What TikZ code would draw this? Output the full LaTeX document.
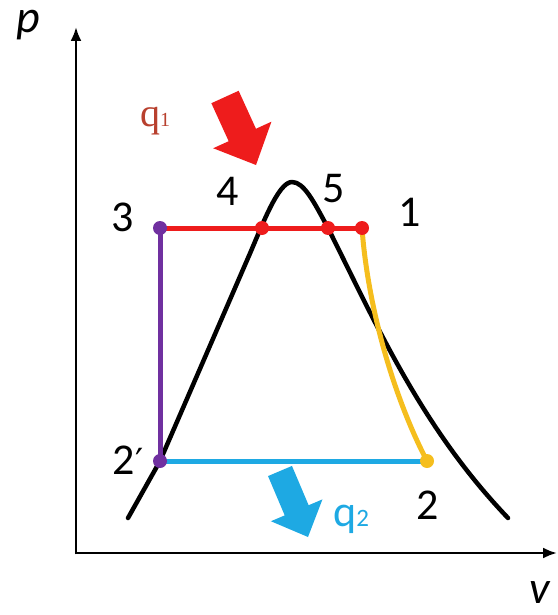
\documentclass[tikz,border=0pt]{standalone}
\usepackage{fontspec}
\setmainfont{Carlito}
\newfontfamily\serifq{Liberation Serif}
\newfontfamily\symf{DejaVu Sans}
\usetikzlibrary{arrows.meta,calc}
\definecolor{cred}{HTML}{EE1C1C}
\definecolor{cpurple}{HTML}{7030A0}
\definecolor{cyel}{HTML}{F5BE1E}
\definecolor{ccyan}{HTML}{1EA9E3}
\definecolor{cqone}{HTML}{B8402E}
\begin{document}
\begin{tikzpicture}[x=1pt,y=-1pt,line join=round,
  lbl/.style={font=\fontsize{44}{46}\selectfont, inner sep=0pt},
  axlbl/.style={font=\itshape\fontsize{46}{48}\selectfont, inner sep=0pt},
  dot/.style={circle, fill=#1, minimum size=14pt, inner sep=0pt},
  axisline/.style={line width=2.5pt, -{Latex[length=14pt,width=11pt]}},
  procline/.style={line width=5pt, draw=#1},
  blockarrow/.style={fill=#1, draw=none}]
\useasboundingbox (0,0) rectangle (557,615);
% axes
\coordinate (O) at (76,553);
\coordinate (Oy) at (76,554.25);
\coordinate (Ox) at (74.75,553);
\coordinate (ytip) at (76,27);
\coordinate (xtip) at (557,553);
\draw[axisline] (Oy) -- (ytip);
\draw[axisline] (Ox) -- (xtip);
\node[axlbl, anchor=base] (pl) at (28,33) {p};
\node[axlbl, anchor=base] (vl) at (540,603) {v};
% saturation dome
\draw[line width=4.5pt, line cap=round] (128,518) -- (160,461) -- (248,258)
  .. controls (262,226) and (278,182) .. (292,182)
  .. controls (304,182) and (314,202) .. (328,228)
  .. controls (378,328) and (422,428) .. (508,518);
% state points
\coordinate (c3) at (160,228);
\coordinate (c4) at (262,228);
\coordinate (c5) at (328,228);
\coordinate (c1) at (362,228);
\coordinate (c2p) at (160,461);
\coordinate (c2) at (427,461);
% process lines
\draw[procline=cpurple] (c3) -- (c2p);
\draw[procline=ccyan] (c2p) -- (c2);
\draw[procline=cyel] (c1) .. controls (368,310) and (395,400) .. (c2);
\draw[procline=cred] (c3) -- (c1);
% dots
\node[dot=cpurple] (d3) at (c3) {};
\node[dot=cpurple] (d2p) at (c2p) {};
\node[dot=cred] (d4) at (c4) {};
\node[dot=cred] (d5) at (c5) {};
\node[dot=cred] (d1) at (c1) {};
\node[dot=cyel] (d2) at (c2) {};
% labels
\node[lbl] (l3) at (123,217) {3};
\node[lbl] (l4) at (228,191) {4};
\node[lbl] (l5) at (334,189) {5};
\node[lbl] (l1) at (410,212) {1};
\node[lbl] (l2p) at (128,460) {2{\symf\fontsize{36}{38}\selectfont ′}};
\node[lbl] (l2) at (428,505) {2};
% heat arrows
\coordinate (rT) at (225,97);
\coordinate (rP) at (256,165);
\coordinate (rN) at ($(rP)!33pt!(rT)$);
\fill[blockarrow=cred] ($(rT)!15pt!90:(rP)$) -- ($(rN)!15pt!90:(rP)$) -- ($(rN)!32pt!90:(rP)$) -- (rP) -- ($(rN)!32pt!-90:(rP)$) -- ($(rN)!15pt!-90:(rP)$) -- ($(rT)!15pt!-90:(rP)$) -- cycle;
\coordinate (bT) at (280,471);
\coordinate (bP) at (308,537);
\coordinate (bN) at ($(bP)!29pt!(bT)$);
\fill[blockarrow=ccyan] ($(bT)!13pt!90:(bP)$) -- ($(bN)!13pt!90:(bP)$) -- ($(bN)!28pt!90:(bP)$) -- (bP) -- ($(bN)!28pt!-90:(bP)$) -- ($(bN)!13pt!-90:(bP)$) -- ($(bT)!13pt!-90:(bP)$) -- cycle;
\node[text=cqone, inner sep=0pt, anchor=base west, font=\serifq\fontsize{40}{42}\selectfont] (q1) at (140,127) {q{\fontsize{20}{22}\selectfont 1}};
\node[text=ccyan, inner sep=0pt, anchor=base west, font=\fontsize{44}{46}\selectfont] (q2) at (333,526) {q{\fontsize{25}{27}\selectfont 2}};
\end{tikzpicture}
\end{document}
